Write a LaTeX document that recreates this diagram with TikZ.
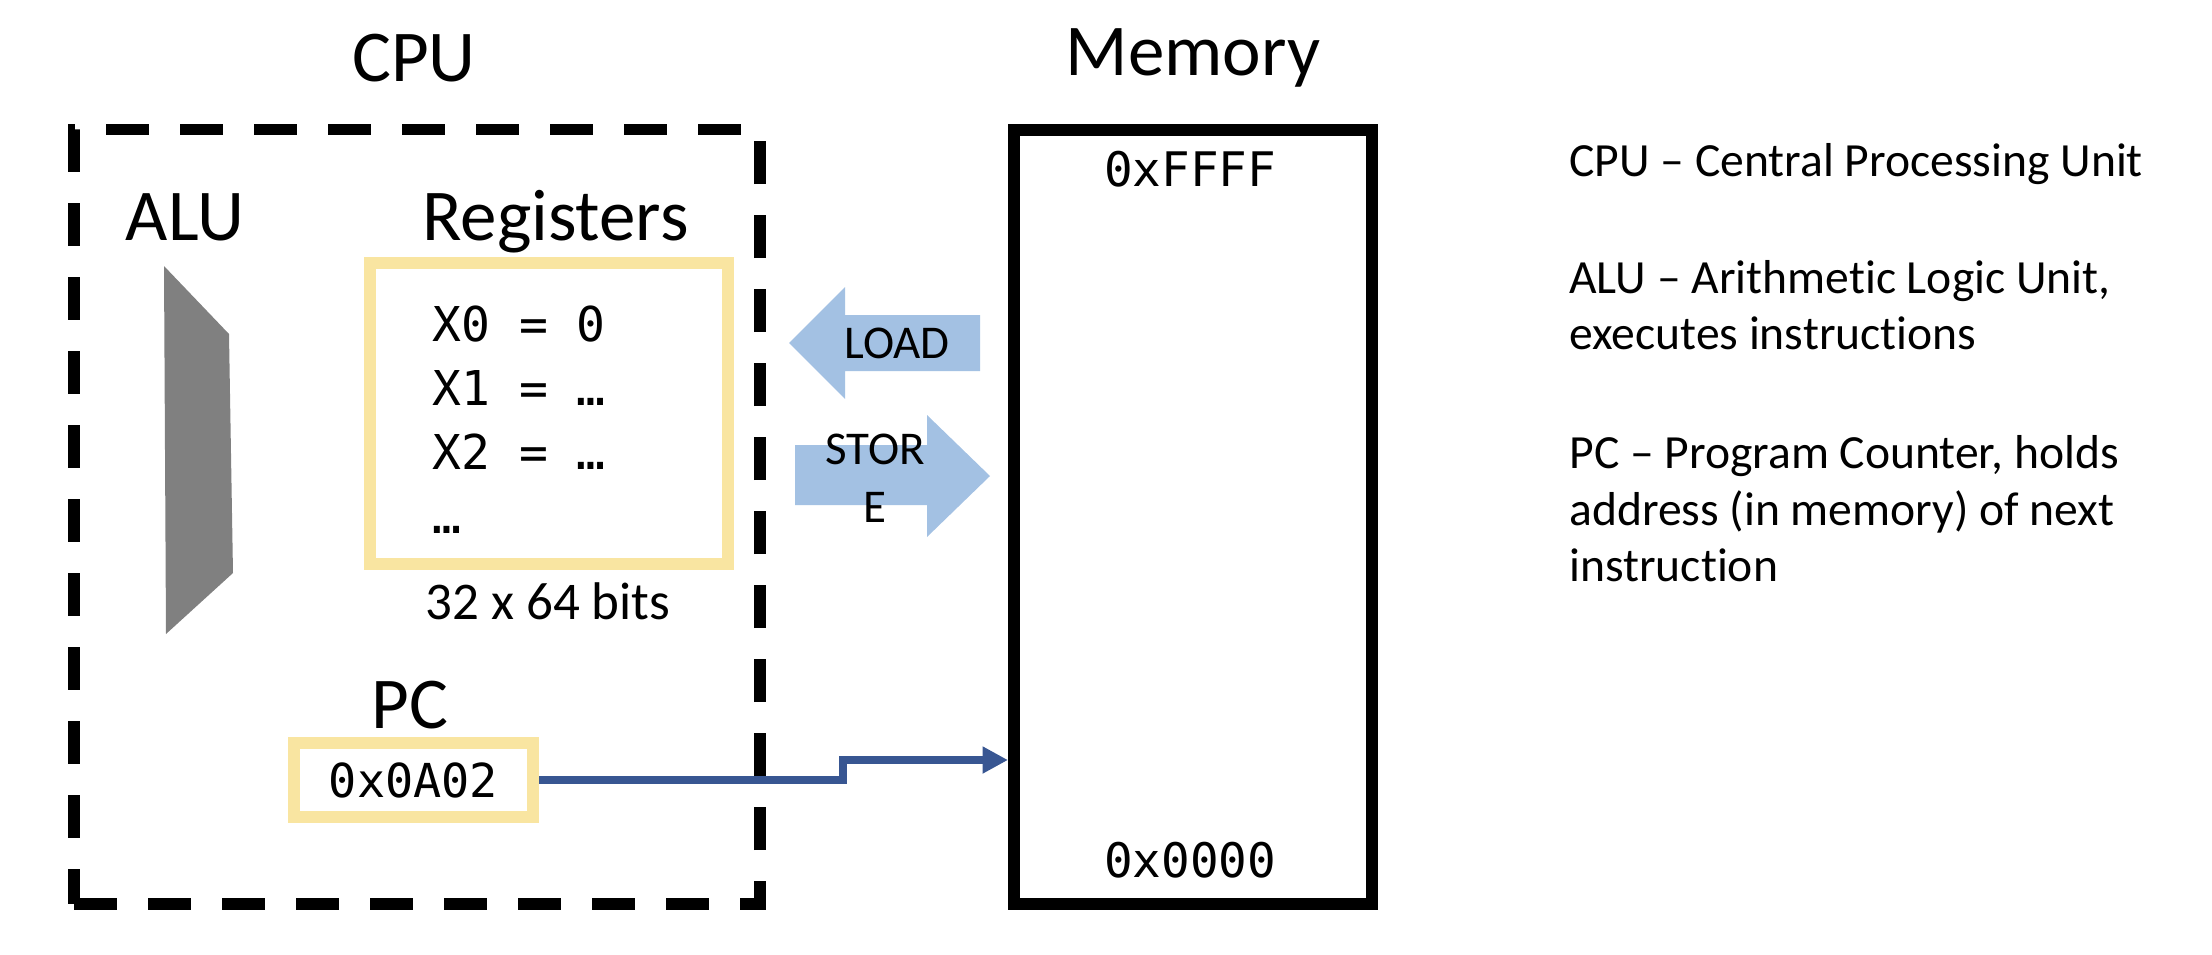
\documentclass[tikz,border=0pt]{standalone}
\usepackage{fontspec}
\setmainfont{Carlito}[Ligatures=NoCommon]
\newfontfamily\monofont{DejaVu Sans Mono}
\usetikzlibrary{arrows.meta}
\definecolor{regyellow}{RGB}{249,229,161}
\definecolor{arrowblue}{RGB}{163,193,227}
\definecolor{pcblue}{RGB}{56,86,146}
\definecolor{alugray}{RGB}{128,128,128}
\begin{document}
\begin{tikzpicture}[x=0.5pt,y=-0.5pt,
  bigtitle/.style={font=\fontsize{36.5pt}{40pt}\selectfont, inner sep=0pt, anchor=base},
  monotext/.style={font=\monofont\fontsize{24pt}{28pt}\selectfont, inner sep=0pt},
  legendtext/.style={font=\fontsize{23.8pt}{28pt}\selectfont, inner sep=0pt, anchor=base west},
  arrowtext/.style={font=\fontsize{23.5pt}{28pt}\selectfont, inner sep=0pt, anchor=base},
  cpubox/.style={draw=black, line width=5.75pt, dash pattern=on 21.5pt off 15.5pt, outer sep=0pt, inner sep=0pt},
  membox/.style={draw=black, line width=6pt, inner sep=0pt},
  yellowbox/.style={draw=regyellow, line width=6pt, inner sep=0pt},
  blockarrow/.style={fill=arrowblue},
  pcarrow/.style={draw=pcblue, line width=4.25pt, -{Triangle[length=12.75pt,width=12.75pt]}}
]
\useasboundingbox (0,0) rectangle (2212,954);

% titles
\node[bigtitle] (cputitle) at (414,81) {CPU};
\node[bigtitle] (memtitle) at (1193,75) {Memory};

% CPU dashed box
\node[cpubox, minimum width=343pt, minimum height=387.25pt] (cpu) at (417,516.75) {};

% ALU
\node[bigtitle] (alulabel) at (185,240) {ALU};
\fill[alugray] (164,266) -- (229,334) -- (233,573) -- (166,634) -- cycle;

% Registers
\node[bigtitle] (reglabel) at (555.5,240) {Registers};
\node[yellowbox, minimum width=179pt, minimum height=150.5pt] (regs) at (549,413.5) {};
\node[monotext, anchor=base west] (reg0) at (432,341) {X0 = 0};
\node[monotext, anchor=base west] (reg1) at (432,405) {X1 = …};
\node[monotext, anchor=base west] (reg2) at (432,469) {X2 = …};
\node[monotext, anchor=base west] (reg3) at (432,533) {…};
\node[font=\fontsize{26.5pt}{30pt}\selectfont, inner sep=0pt, anchor=base] (regsize) at (548,619) {32 x 64 bits};

% PC
\node[bigtitle] (pclabel) at (410,728) {PC};
\node[yellowbox, monotext, minimum width=119.5pt, minimum height=37pt, font=\monofont\fontsize{23.4pt}{28pt}\selectfont] (pcbox) at (413.5,780) {0x0A02};

% Memory
\node[membox, minimum width=179pt, minimum height=387pt] (mem) at (1193,517) {};
\node[monotext, anchor=base, font=\monofont\fontsize{23.8pt}{28pt}\selectfont] (memtop) at (1190,186) {0xFFFF};
\node[monotext, anchor=base, font=\monofont\fontsize{23.8pt}{28pt}\selectfont] (membot) at (1190,877) {0x0000};

% LOAD arrow
\fill[blockarrow] (789,343) -- (845,287) -- (845,315) -- (980,315) -- (980,371) -- (845,371) -- (845,399) -- cycle;
\node[arrowtext] (loadtext) at (897,358) {LOAD};

% STORE arrow
\fill[blockarrow] (795,445) -- (927,445) -- (927,415) -- (990,476) -- (927,537) -- (927,505) -- (795,505) -- cycle;
\node[arrowtext] (storetext1) at (875,464) {STOR};
\node[arrowtext] (storetext2) at (875,522) {E};

% PC -> memory connector
\coordinate (stepx) at (843,760);
\draw[pcarrow] (pcbox.east) -| (stepx) -- (stepx -| mem.west);

% legend
\node[legendtext] (leg1) at (1569,176) {CPU – Central Processing Unit};
\node[legendtext] (leg2) at (1569,293) {ALU – Arithmetic Logic Unit,};
\node[legendtext] (leg3) at (1569,349) {executes instructions};
\node[legendtext] (leg4) at (1569,468) {PC – Program Counter, holds};
\node[legendtext] (leg5) at (1569,525) {address (in memory) of next};
\node[legendtext] (leg6) at (1569,581) {instruction};
\end{tikzpicture}
\end{document}
